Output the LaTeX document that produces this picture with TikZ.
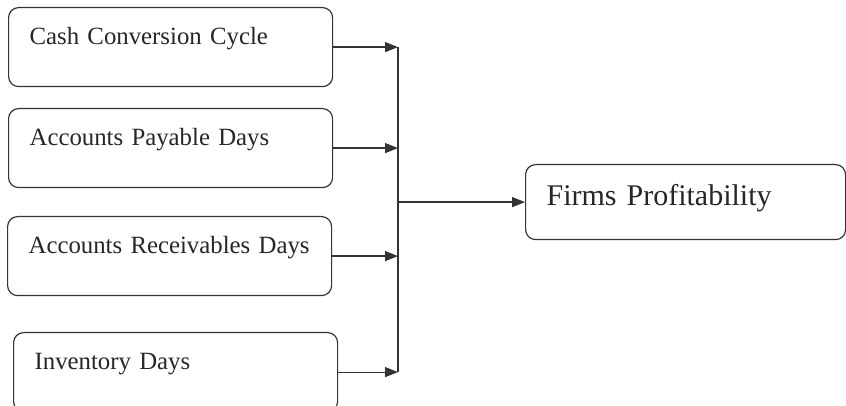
\documentclass[tikz,border=0pt]{standalone}
\usepackage{fontspec}
\setmainfont{Liberation Serif}
\usetikzlibrary{arrows.meta}
\tikzset{
  factor/.style={draw=black!80, line width=0.6pt, rounded corners=5pt, anchor=north west,
    inner xsep=10.5pt, inner ysep=0pt, text width=141pt, align=left,
    text height=18.5pt, text depth=21pt, font=\fontsize{12.4}{14}\selectfont, text=black!85},
  outcome/.style={factor, text width=139pt, text height=20.5pt, text depth=17pt,
    font=\fontsize{15}{17}\selectfont},
  link/.style={draw=black!80, line width=0.6pt, -{Triangle[length=6.5pt,width=5pt]}}
}
\begin{document}
\begin{tikzpicture}[x=0.5pt,y=-0.5pt]
  \useasboundingbox (0,0) rectangle (846,406);
  % Working capital factors
  \node[factor] (ccc) at (8,7) {Cash Conversion Cycle};
  \node[factor] (apd) at (8,108) {Accounts Payable Days};
  \node[factor] (ard) at (7,216) {Accounts Receivables Days};
  \node[factor] (inv) at (13,332) {Inventory Days};

  % Outcome
  \node[outcome] (prof) at (525,164) {Firms Profitability};

  % Collecting line
  \coordinate (bus) at (398,0);
  \draw[black!80, line width=0.6pt] (ccc.east -| bus) -- (inv.east -| bus);
  \foreach \n in {ccc,apd,ard,inv}
    \draw[link] (\n.east) -- (\n.east -| bus);
  \draw[link] (prof.west -| bus) -- (prof.west);
\end{tikzpicture}
\end{document}
